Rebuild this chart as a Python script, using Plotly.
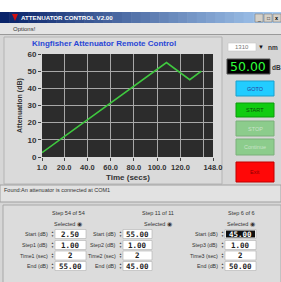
import plotly.graph_objects as go

# ---------------- data ----------------
time_s = [1, 108, 128, 138]
atten_db = [2.5, 55, 45, 50]
x_tickvals = [1, 20, 40, 60, 80, 100, 120, 148]
x_ticktext = ["1.0", "20.0", "40.0", "60.0", "80.0", "100.0", "120.0", "148.0"]
y_tickvals = [0, 10, 20, 30, 40, 50, 60]
x_range = [1, 148]
y_range = [0, 60]

step_headers = ["Step 54 of 54", "Step 11 of 11", "Step 6 of 6"]
step_labels = [["Start (dB)", "Step1 (dB)", "Time1 (sec)", "End (dB)"],
               ["Start (dB)", "Step2 (dB)", "Time2 (sec)", "End (dB)"],
               ["Start (dB)", "Step3 (dB)", "Time3 (sec)", "End (dB)"]]
step_values = [["2.50", "1.00", "2", "55.00"],
               ["55.00", "1.00", "2", "45.00"],
               ["45.00", "1.00", "2", "50.00"]]
buttons = ["GOTO", "START", "STOP", "Continue", "Exit"]

# ---------------- geometry helpers (pixels -> paper) ----------------
WW, HH = 281, 282
L, R, T, B = 42, 213, 54, 157
PW, PH = R - L, B - T


def X(p):
    return (p - L) / PW


def Y(p):
    return (B - p) / PH


FONT = "Liberation Sans, Arial, sans-serif"
shapes = []
ann = []


def rect(x0, y0, x1, y1, fill, line=None, lw=0):
    shapes.append(dict(type="rect", xref="paper", yref="paper", layer="below",
                       x0=X(x0), x1=X(x1), y0=Y(y1), y1=Y(y0),
                       fillcolor=fill, line=dict(color=line or fill, width=lw)))


def hline(x0, x1, y, color, w=1):
    shapes.append(dict(type="line", xref="paper", yref="paper", layer="below",
                       x0=X(x0), x1=X(x1), y0=Y(y), y1=Y(y), line=dict(color=color, width=w)))


def txt(x, y, s, size=6, color="#222", anchor="center", bold=False, family=FONT, angle=0, bg=None):
    ann.append(dict(xref="paper", yref="paper", x=X(x), y=Y(y), text=("<b>%s</b>" % s) if bold else s,
                    showarrow=False, xanchor=anchor, yanchor="middle", textangle=angle,
                    font=dict(size=size, color=color, family=family),
                    bgcolor=bg, borderpad=0))


# window top (white strip)
rect(0, 0, 281, 12, "#ffffff")
# title bar gradient
n = 30
c0, c1 = (10, 36, 106), (166, 202, 240)
for i in range(n):
    f = i / (n - 1)
    col = "rgb(%d,%d,%d)" % tuple(int(a + (b - a) * f) for a, b in zip(c0, c1))
    rect(281 * i / n, 12, 281 * (i + 1) / n + 0.5, 23, col)
shapes.append(dict(type="path", xref="paper", yref="paper", layer="below",
                   path="M %f,%f L %f,%f L %f,%f Z" % (X(12), Y(14), X(18), Y(14), X(15), Y(21)),
                   fillcolor="#d01010", line=dict(width=0)))
txt(20, 17.5, "ATTENUATOR CONTROL V2.00", size=6.2, color="#ffffff", anchor="left", bold=True)
for bx in (255, 264, 273):
    rect(bx, 14, bx + 8, 22, "#d4d0c8", "#808080", 0.6)
txt(259, 19, "_", 5, "#000")
txt(268, 18, "□", 5, "#000")
txt(277, 18, "x", 5.5, "#000", bold=True)
# menu bar
rect(0, 23, 281, 34, "#e4e4e4")
txt(12, 28.5, "Options!", 6, "#333", anchor="left")
hline(0, 281, 34.5, "#9a9a9a", 1)

# chart panel
rect(4, 37, 222, 184, "#dadada", "#b4b4b4", 1)
# plot area background
shapes.append(dict(type="rect", xref="paper", yref="paper", layer="below",
                   x0=0, x1=1, y0=0, y1=1, fillcolor="#2c2c2c", line=dict(color="#2c2c2c", width=0)))
txt(104, 43.5, "Kingfisher Attenuator Remote Control", 8, "#2947d6", bold=True)
txt(128, 177, "Time (secs)", 8, "#333", bold=True)
txt(20, 106, "Attenuation (dB)", 7, "#333", bold=True, angle=-90)

# right side controls
rect(228, 43, 256, 51, "#ffffff", "#c8c8c8", 0.6)
txt(242, 47, "1310", 6, "#777")
txt(261, 47, "▼", 6, "#111")
txt(267, 47.5, "nm", 6.5, "#333", anchor="left", bold=True)
rect(227, 59, 270, 74, "#000000", "#555555", 1)
txt(248.5, 66.8, "50.00", 12.5, "#2fff3a", family="DejaVu Sans, sans-serif")
txt(271, 67, "dB", 6.5, "#333", anchor="left", bold=True)

btn_y = [(81, 96), (103, 117), (121, 136), (139, 155), (162, 182)]
btn_fill = ["#22ccff", "#11cc11", "#8ccc8c", "#8ccc8c", "#ff0808"]
btn_line = ["#1aa0cc", "#0c9a0c", "#7ab07a", "#7ab07a", "#c00000"]
btn_txt = ["#2a3c9a", "#0a4a0a", "#c9e3c9", "#c9e3c9", "#8a0000"]
for (y0, y1), f, lc, tc, lab in zip(btn_y, btn_fill, btn_line, btn_txt, buttons):
    rect(236, y0, 274, y1, f, lc, 1)
    txt(255, (y0 + y1) / 2, lab, 5.5, tc)

# status box
rect(0, 185, 281, 202, "#e2e2e2", "#a0a0a0", 1)
txt(3, 189.5, "Found:An attenuator is connected at COM1", 5.5, "#333", anchor="left")

# bottom panel
rect(3, 205, 281, 283, "#dcdcdc", "#a8a8a8", 1)
centers = [68, 158, 241]
lab_right = [49, 117, 219]
box_x = [(55, 86), (123, 152), (225, 256)]
rows_y = [234, 245, 255.5, 266]
for c in range(3):
    txt(centers[c], 213, step_headers[c], 5.5, "#333")
    txt(centers[c], 224, "Selected ◉", 5.5, "#333")
    for r in range(4):
        ry = rows_y[r]
        txt(lab_right[c], ry, step_labels[c][r], 5.3, "#333", anchor="right")
        txt(lab_right[c] + 3.5, ry - 1.8, "▲", 3, "#444")
        txt(lab_right[c] + 3.5, ry + 1.8, "▼", 3, "#444")
        bx0, bx1 = box_x[c]
        rect(bx0, ry - 4.5, bx1, ry + 4.5, "#ffffff", "#b0b0b0", 0.6)
        hl = (c == 2 and r == 0)
        if hl:
            rect(bx0 + 1, ry - 3.5, bx1 - 1, ry + 3.5, "#101010")
        txt((bx0 + bx1) / 2, ry, step_values[c][r], 7.5, "#ffffff" if hl else "#222", bold=True,
            family="DejaVu Sans Mono, monospace")

fig = go.Figure()
fig.add_trace(go.Scatter(x=time_s, y=atten_db, mode="lines",
                         line=dict(color="#3fc83f", width=1.6), hoverinfo="skip"))

grid_col = "#a8a8a8"
fig.update_layout(
    width=WW, height=HH, autosize=False,
    margin=dict(l=L, r=WW - R, t=T, b=HH - B, pad=0),
    paper_bgcolor="#d6d6d6", plot_bgcolor="rgba(0,0,0,0)",
    showlegend=False, shapes=shapes, annotations=ann,
    font=dict(family=FONT, color="#333"),
    xaxis=dict(range=x_range, tickmode="array", tickvals=x_tickvals, ticktext=x_ticktext,
               tickangle=0,
               showgrid=True, gridcolor=grid_col, gridwidth=1, zeroline=False,
               ticks="outside", ticklen=3, tickcolor="#444",
               tickfont=dict(size=7.5, family=FONT, color="#333", weight="bold"),
               minor=dict(tickmode="array", tickvals=[140], showgrid=True, gridcolor=grid_col,
                          gridwidth=1, ticks=""),
               showline=False, fixedrange=True),
    yaxis=dict(range=y_range, tickmode="array", tickvals=y_tickvals,
               showgrid=True, gridcolor=grid_col, gridwidth=1, zeroline=False,
               ticks="outside", ticklen=3, tickcolor="#444",
               tickfont=dict(size=8, family=FONT, color="#333", weight="bold"),
               showline=False, fixedrange=True),
)

fig.write_html("out.html", config={"displayModeBar": False},
               post_script="document.body.style.margin='0';document.body.style.overflow='hidden';")
